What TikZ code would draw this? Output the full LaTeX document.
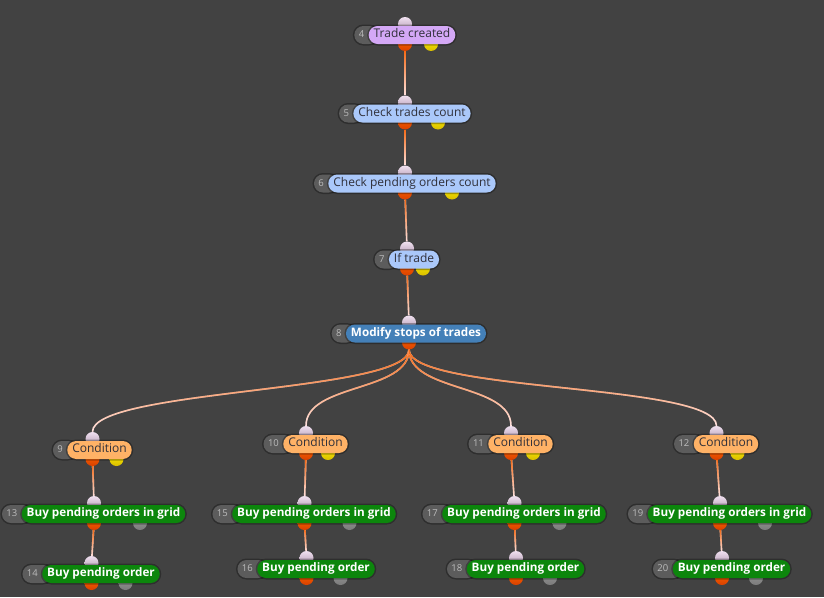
\documentclass[tikz,border=0pt]{standalone}
\usepackage{fontspec}
\setmainfont{Open Sans}
\usepackage{tikz}
\usetikzlibrary{calc, fadings}
\definecolor{canvasgray}{RGB}{66,66,66}
\definecolor{numgray}{RGB}{92,92,92}
\definecolor{numtext}{RGB}{188,188,188}
\definecolor{darktext}{RGB}{48,48,58}
\definecolor{eventlilac}{RGB}{212,168,246}
\definecolor{checkblue}{RGB}{170,200,250}
\definecolor{actionblue}{RGB}{68,128,184}
\definecolor{condorange}{RGB}{255,178,102}
\definecolor{ordergreen}{RGB}{12,134,12}
\definecolor{wirelight}{RGB}{255,228,226}
\definecolor{wireorange}{RGB}{245,105,20}

\pgfdeclarelayer{bglayer}
\pgfdeclarelayer{edgelayer}
\pgfdeclarelayer{portlayer}
\pgfdeclarelayer{numlayer}
\pgfsetlayers{bglayer,edgelayer,portlayer,numlayer,main}

\tikzfading[name=srcfade, top color=transparent!0, middle color=transparent!25,
            bottom color=transparent!100]

% #1 id, #2 body style, #3 x, #4 y, #5 extra port style, #6 its x offset, #7 text
\newcommand{\flownode}[7]{%
  \pgfmathsetmacro{\bodyx}{#3+(#1<10?7:9.5)}%
  \node[#2] (n#1) at (\bodyx,#4) {#7};
  \begin{pgfonlayer}{numlayer}
    \node[numbox, anchor=east] (k#1) at ([xshift=10pt]n#1.west)
        {\kern4.5pt#1\kern14pt};
  \end{pgfonlayer}
  \begin{pgfonlayer}{portlayer}
    \node[inport]  (i#1) at (#3,#4-11) {};
    \node[outport] (o#1) at (#3,#4+9) {};
    \if\relax\detokenize{#5}\relax\else
      \node[#5] (a#1) at (#3+#6,#4+9) {};
    \fi
  \end{pgfonlayer}
}

\begin{document}
\begin{tikzpicture}[
  x=1pt, y=-1pt,
  % node bodies are pills; the preaction gives the dark halo
  body/.style={rectangle, rounded corners=9pt, minimum height=18pt,
               inner xsep=5pt, inner ysep=0pt, text height=8.6pt, text depth=2.8pt,
               preaction={draw=black, draw opacity=0.3, line width=3pt}},
  event/.style={body, fill=eventlilac, text=darktext, font=\fontsize{12}{14}\selectfont},
  check/.style={body, fill=checkblue, text=darktext, font=\fontsize{12}{14}\selectfont},
  action/.style={body, fill=actionblue, text=white, font=\bfseries\fontsize{11.7}{14}\selectfont},
  cond/.style={body, fill=condorange, text=darktext, font=\fontsize{12}{14}\selectfont},
  order/.style={body, fill=ordergreen, text=white, font=\bfseries\fontsize{11.7}{14}\selectfont},
  numbox/.style={body, fill=numgray, text=numtext, inner xsep=0pt,
                 font=\fontsize{9.5}{10}\selectfont},
  port/.style={circle, minimum size=14pt, inner sep=0pt},
  inport/.style={port, top color=white!88!violet, bottom color=black!25!white!80!violet},
  outport/.style={port, top color=orange!80!red, bottom color=orange!60!red!85!black},
  yellowport/.style={port, top color=yellow!90!orange, bottom color=yellow!75!orange!85!black},
  grayport/.style={port, top color=black!40, bottom color=black!52},
  wire/.style={draw=wirelight, line width=1.6pt,
               postaction={draw=wireorange, path fading=srcfade}}
]

\begin{pgfonlayer}{bglayer}
  \fill[canvasgray] (0,0) rectangle (824,597);
\end{pgfonlayer}
\useasboundingbox (0,0) rectangle (824,597);

% Main chain
\flownode{4}{event}{405}{35}{yellowport}{26}{Trade created}
\flownode{5}{check}{405}{113.5}{yellowport}{33}{Check trades count}
\flownode{6}{check}{405}{183.5}{yellowport}{47}{Check pending orders count}
\flownode{7}{check}{407}{259.5}{yellowport}{16}{If trade}
\flownode{8}{action}{409}{333.5}{}{0}{Modify stops of trades}

% Conditions
\flownode{9}{cond}{92.5}{450}{yellowport}{24}{Condition}
\flownode{10}{cond}{306}{444}{yellowport}{22}{Condition}
\flownode{11}{cond}{511}{444}{yellowport}{22}{Condition}
\flownode{12}{cond}{716.5}{444}{yellowport}{21}{Condition}

% Orders
\flownode{13}{order}{94}{514}{grayport}{46}{Buy pending orders in grid}
\flownode{14}{order}{91.5}{574}{grayport}{34}{Buy pending order}
\flownode{15}{order}{304.5}{514}{grayport}{45}{Buy pending orders in grid}
\flownode{16}{order}{306.5}{569}{grayport}{34}{Buy pending order}
\flownode{17}{order}{514.5}{514}{grayport}{45}{Buy pending orders in grid}
\flownode{18}{order}{516}{569}{grayport}{34}{Buy pending order}
\flownode{19}{order}{720}{514}{grayport}{45}{Buy pending orders in grid}
\flownode{20}{order}{722}{569}{grayport}{34}{Buy pending order}

% Wires
\begin{pgfonlayer}{edgelayer}
  \draw[wire] (o4) -- (i5);
  \draw[wire] (o5) -- (i6);
  \draw[wire] (o6) -- (i7);
  \draw[wire] (o7) -- (i8);
  \draw[wire] (o8) .. controls +(0,50) and +(0,-50) .. (i9);
  \draw[wire] (o8) .. controls +(0,50) and +(0,-50) .. (i10);
  \draw[wire] (o8) .. controls +(0,50) and +(0,-50) .. (i11);
  \draw[wire] (o8) .. controls +(0,50) and +(0,-50) .. (i12);
  \draw[wire] (o9)  -- (i13);
  \draw[wire] (o10) -- (i15);
  \draw[wire] (o11) -- (i17);
  \draw[wire] (o12) -- (i19);
  \draw[wire] (o13) -- (i14);
  \draw[wire] (o15) -- (i16);
  \draw[wire] (o17) -- (i18);
  \draw[wire] (o19) -- (i20);
\end{pgfonlayer}

\end{tikzpicture}
\end{document}
